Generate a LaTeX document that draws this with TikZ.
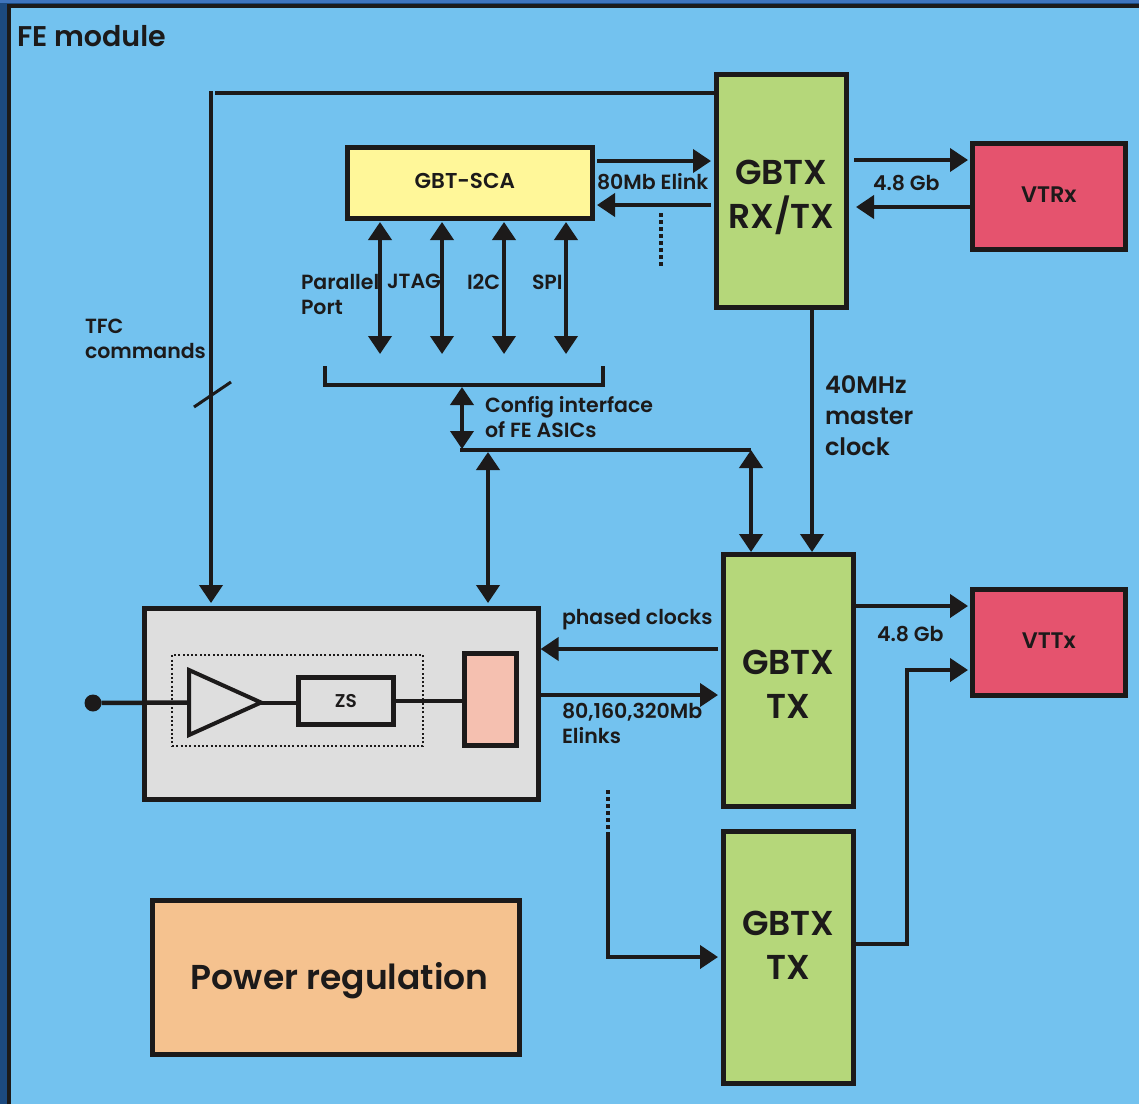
\documentclass[tikz,border=0pt]{standalone}
\usepackage{fontspec}
\setmainfont{Poppins}[BoldFont={Poppins SemiBold}]
\usetikzlibrary{arrows.meta,shapes.geometric,positioning}
\definecolor{bgblue}{HTML}{73C2EF}
\definecolor{edgeblue}{HTML}{1C4A80}
\definecolor{topblue}{HTML}{3F74BD}
\definecolor{ink}{HTML}{1C1A1A}
\definecolor{gbtgreen}{HTML}{B5D77A}
\definecolor{vtred}{HTML}{E5536E}
\definecolor{scayellow}{HTML}{FFF799}
\definecolor{fegray}{HTML}{DEDEDE}
\definecolor{serpink}{HTML}{F5C0B0}
\definecolor{pworange}{HTML}{F5C28F}
\newcommand{\lbl}[1]{\fontsize{#1}{#1}\selectfont}
\begin{document}
\begin{tikzpicture}[x=1pt, y=-1pt, line width=4pt, draw=ink, text=ink,
    box/.style = {draw=ink, line width=4.6pt, anchor=north west, inner sep=0pt, align=center},
    gbtx/.style = {box, fill=gbtgreen, minimum width=130pt},
    bigtext/.style = {inner sep=0pt, align=center, font=\bfseries\fontsize{34.5}{44}\selectfont},
    vttext/.style = {inner sep=0pt, font=\bfseries\lbl{22.5}},
    vt/.style = {box, fill=vtred, minimum width=153pt, minimum height=106pt},
    lab/.style = {anchor=west, inner sep=0pt, outer sep=0pt, align=left, font=\bfseries\fontsize{20.5}{25}\selectfont},
    arr/.style = {-{Triangle[length=18pt,width=23pt]}},
    twoway/.style = {{Triangle[length=18pt,width=23pt]}-{Triangle[length=18pt,width=23pt]}},
    spots/.style = {dash pattern=on 4pt off 3pt}]
  \useasboundingbox (0,0) rectangle (1139,1104);
  \fill[edgeblue] (0,0) rectangle (1139,1104);
  \fill[topblue] (0,0) rectangle (1139,3);
  \fill[bgblue] (8,5) rectangle (1139,1104);
  \draw (8.5,1104) -- (8.5,5.5) -- (1139,5.5);

  \node[lab, font=\bfseries\lbl{28.5}] (title) at (17,36) {FE module};

  \node[gbtx, minimum height=233pt, label={[bigtext, yshift=-7pt]center:{GBTX\\RX/TX}}] (rxtx) at (714,72) {};
  \node[gbtx, minimum height=252pt, label={[bigtext, yshift=-4pt]center:{GBTX\\TX}}] (tx1) at (721,552) {};
  \node[gbtx, minimum height=252pt, label={[bigtext, yshift=12pt]center:{GBTX\\TX}}] (tx2) at (721,829) {};
  \node[vt, label={[vttext, yshift=2pt]center:VTRx}] (vtrx) at (970,141) {};
  \node[vt, label={[vttext, yshift=2pt]center:VTTx}] (vttx) at (970,587) {};
  \node[box, fill=scayellow, minimum width=245pt, minimum height=71pt,
    label={[vttext, font=\bfseries\lbl{21.5}, xshift=-5pt, yshift=2pt]center:GBT-SCA}] (sca) at (345,145) {};
  \node[box, fill=fegray, minimum width=394pt, minimum height=191pt] (fe) at (142,606) {};
  \node[box, fill=pworange, minimum width=367pt, minimum height=154pt,
    label={[bigtext, xshift=4pt, yshift=-3pt]center:Power regulation}] (power) at (150,898) {};

  % inside of the front end chip
  \node[box, line width=2pt, dash pattern=on 2pt off 2.3pt, minimum width=251pt, minimum height=91pt] (zone) at (171,654) {};
  \node[draw=ink, line width=4pt, fill=fegray, isosceles triangle, isosceles triangle apex angle=47,
    isosceles triangle stretches, minimum width=65pt, minimum height=72pt, inner sep=0pt, anchor=lower side, outer sep=0pt] (amp) at (189,702.5) {};
  \node[box, fill=fegray, minimum width=95pt, minimum height=47pt, font=\bfseries\lbl{18.5}] (zs) at (296,675) {ZS};
  \node[box, fill=serpink, minimum width=52pt, minimum height=92pt] (ser) at (462,651) {};
  \node[circle, fill=ink, draw=none, outer sep=0pt, minimum size=17pt, inner sep=0pt] (in) at (93,703) {};

  \draw[line width=4.5pt] (in) -- (amp.west);
  \draw (amp.east) -- (amp.east -| zs.west);
  \draw (zs.east) -- (zs.east -| ser.west);

  % TFC commands
  \draw (rxtx.west |- 0,93) -- (215,93);
  \node[lab] (tfc) at (85,339) {TFC\\commands};
  \draw[arr] (211,91) -- (211,603);
  \coordinate (slasha) at (194,407);
  \coordinate (slashb) at (231,382);
  \draw[line width=3pt] (slasha) -- (slashb);

  % Elink
  \draw[arr, shorten >=3pt] (597,161) -- (rxtx.west |- 0,161);
  \draw[arr, shorten <=3pt] (rxtx.west |- 0,205) -- (597,205);
  \node[lab] (elink) at (597,182) {80Mb Elink};
  \coordinate (doton) at (661,213);
  \coordinate (dotoff) at (661,268);
  \draw[spots] (doton) -- (dotoff);

  % optical links
  \draw[arr, shorten >=2pt] (854,160) -- (vtrx.west |- 0,160);
  \draw[arr] (vtrx.west |- 0,207) -- (856,207);
  \node[lab] (gbup) at (873,183) {4.8 Gb};
  \draw[arr, shorten >=2pt] (tx1.east |- 0,606) -- (vttx.west |- 0,606);
  \node[lab] (gbdown) at (877,634) {4.8 Gb};
  \draw[arr, shorten >=2pt] (856,944) -| (907,670) -- (vttx.west |- 0,670);

  % master clock
  \draw[arr] (rxtx.south -| 812,0) -- (tx1.north -| 812,0);
  \node[lab, font=\bfseries\fontsize{24}{31}\selectfont] (clk) at (825,416) {40MHz\\master\\clock};

  % slow control
  \foreach \x in {380,442,504,566}
    \draw[twoway] (\x,222) -- (\x,354);
  \node[lab] (pplab) at (301,294) {Parallel\\Port};
  \node[lab] (jtaglab) at (387,281) {JTAG};
  \node[lab] (iiclab) at (467,282) {I2C};
  \node[lab] (spilab) at (532,282) {SPI};
  \draw (325,366) |- (603,385) -- (603,366);
  \draw[twoway] (462,387) -- (462,449);
  \node[lab] (cfg) at (485,417) {Config interface\\of FE ASICs};
  \draw (460,450) -- (751,450);
  \draw[twoway] (751,450) -- (tx1.north -| 751,0);
  \draw[twoway, shorten >=3pt] (488,452) -- (fe.north -| 488,0);

  % data
  \draw[arr, shorten <=3pt] (tx1.west |- 0,649) -- (fe.east |- 0,649);
  \node[lab] (phased) at (562,620) {phased clocks};
  \draw[arr, shorten >=3pt] (fe.east |- 0,695) -- (tx1.west |- 0,695);
  \node[lab] (elinks) at (562,723) {80,160,320Mb\\Elinks};
  \coordinate (dotstart) at (608,790);
  \coordinate (dotend) at (608,833);
  \draw[spots] (dotstart) -- (dotend);
  \draw[arr, shorten >=3pt] (dotend) |- (tx2.west |- 0,957);
\end{tikzpicture}
\end{document}
